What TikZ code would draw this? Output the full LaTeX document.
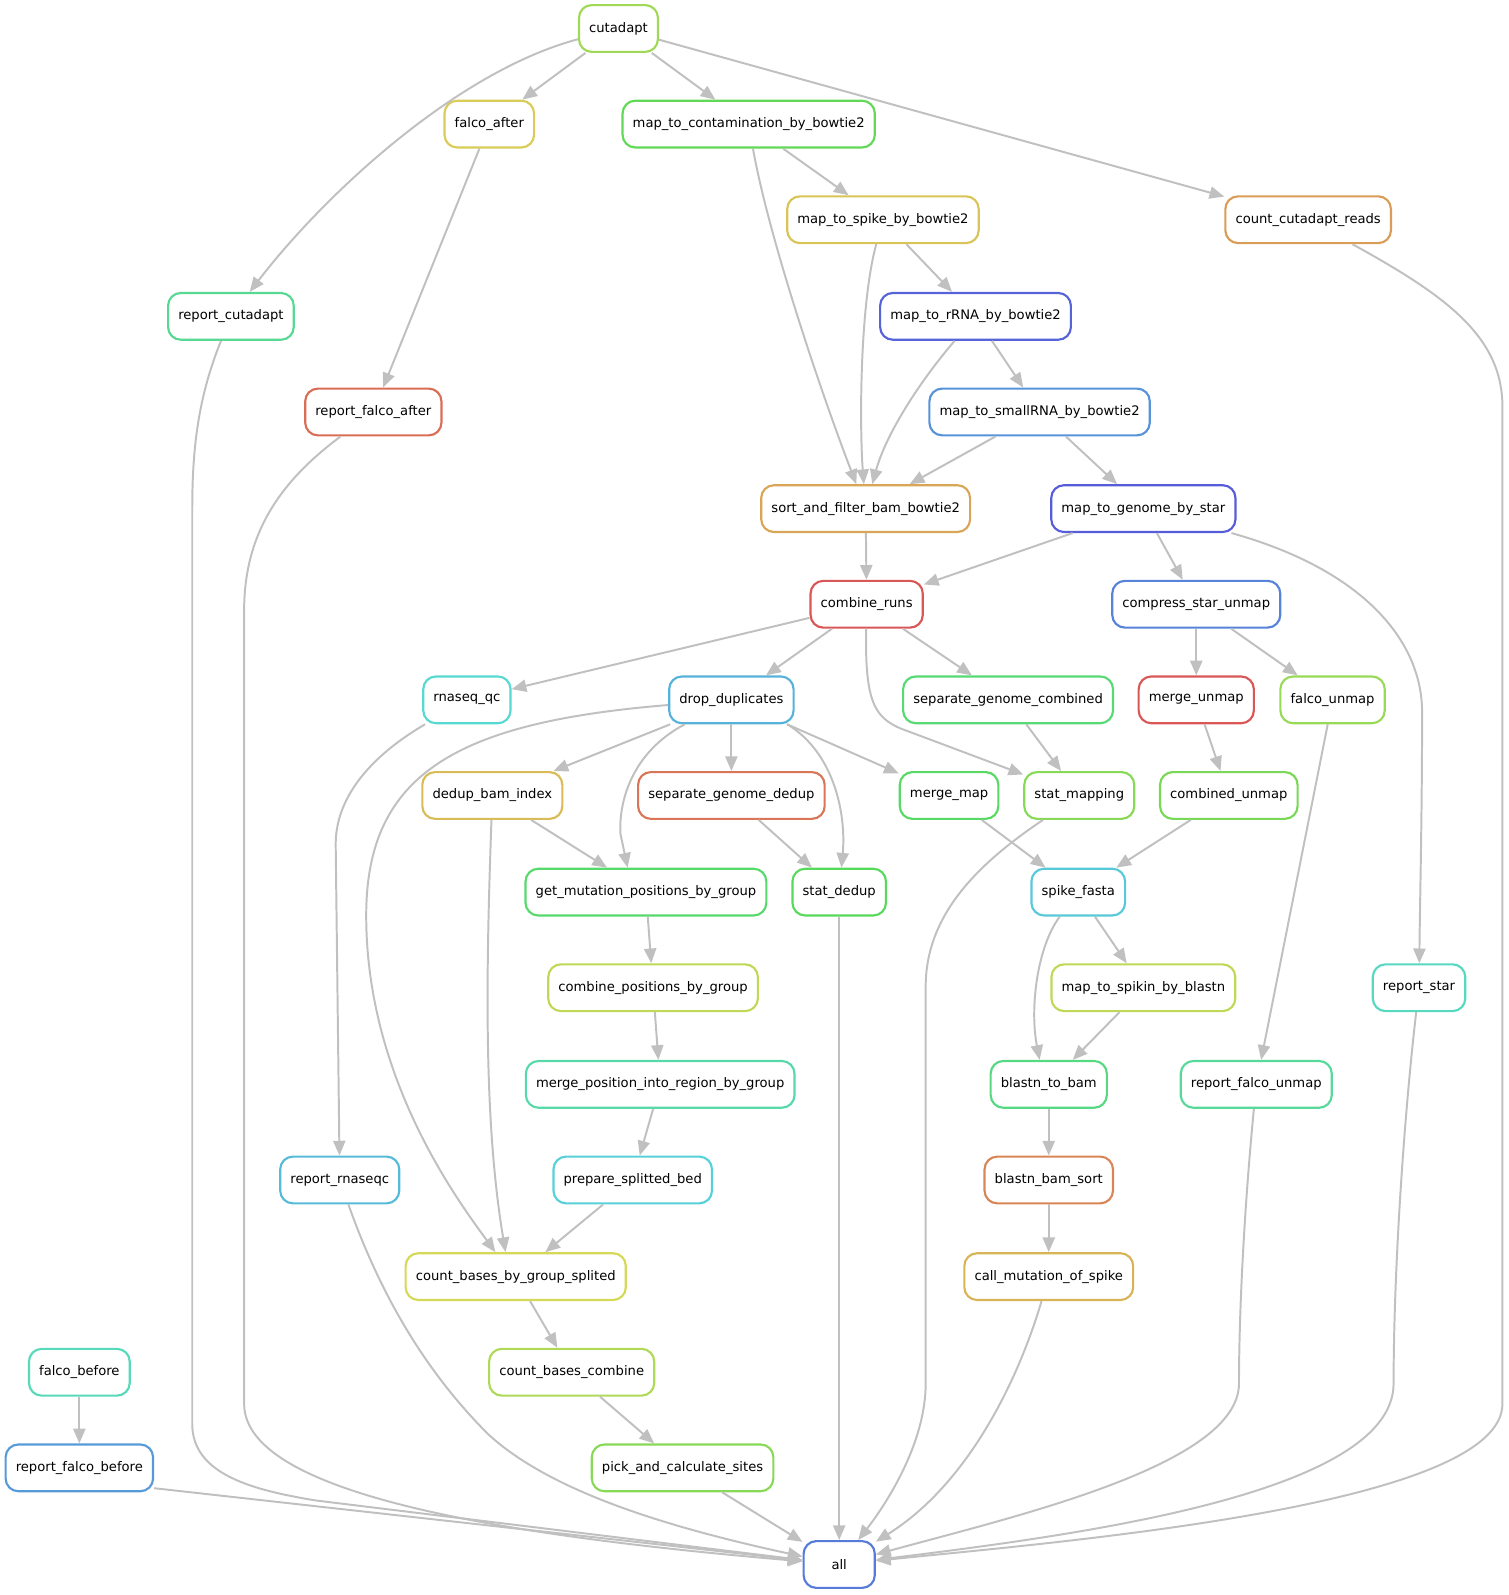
\PassOptionsToPackage{rgb}{xcolor}
\documentclass[tikz,border=0pt]{standalone}
\usepackage{fontspec}
\newfontfamily\dagfont{DejaVu Sans}
\usetikzlibrary{arrows.meta}
\usepackage{xcolor}

\definecolor{edgegray}{RGB}{192,192,192}
\definecolor{cCutadapt}{hsb}{0.24,0.6,0.85}
\definecolor{cFalcoAfter}{hsb}{0.15,0.6,0.85}
\definecolor{cMapContam}{hsb}{0.32,0.6,0.85}
\definecolor{cMapSpike}{hsb}{0.14,0.6,0.85}
\definecolor{cCountReads}{hsb}{0.09,0.6,0.85}
\definecolor{cReportCutadapt}{hsb}{0.41,0.6,0.85}
\definecolor{cMapRRNA}{hsb}{0.65,0.6,0.85}
\definecolor{cReportFalcoAfter}{hsb}{0.03,0.6,0.85}
\definecolor{cMapSmallRNA}{hsb}{0.59,0.6,0.85}
\definecolor{cSortFilter}{hsb}{0.10,0.6,0.85}
\definecolor{cMapGenome}{hsb}{0.66,0.6,0.85}
\definecolor{cCombineRuns}{hsb}{0.00,0.6,0.85}
\definecolor{cCompressUnmap}{hsb}{0.61,0.6,0.85}
\definecolor{cRnaseqQC}{hsb}{0.49,0.6,0.85}
\definecolor{cDropDup}{hsb}{0.55,0.6,0.85}
\definecolor{cSepGenomeComb}{hsb}{0.37,0.6,0.85}
\definecolor{cMergeUnmap}{hsb}{0.00,0.6,0.85}
\definecolor{cFalcoUnmap}{hsb}{0.25,0.6,0.85}
\definecolor{cDedupIndex}{hsb}{0.13,0.6,0.85}
\definecolor{cSepGenomeDedup}{hsb}{0.04,0.6,0.85}
\definecolor{cMergeMap}{hsb}{0.35,0.6,0.85}
\definecolor{cStatMapping}{hsb}{0.27,0.6,0.85}
\definecolor{cCombinedUnmap}{hsb}{0.29,0.6,0.85}
\definecolor{cGetMutPos}{hsb}{0.36,0.6,0.85}
\definecolor{cStatDedup}{hsb}{0.34,0.6,0.85}
\definecolor{cSpikeFasta}{hsb}{0.52,0.6,0.85}
\definecolor{cCombinePos}{hsb}{0.20,0.6,0.85}
\definecolor{cMapSpikin}{hsb}{0.20,0.6,0.85}
\definecolor{cReportStar}{hsb}{0.47,0.6,0.85}
\definecolor{cMergePos}{hsb}{0.44,0.6,0.85}
\definecolor{cBlastnBam}{hsb}{0.39,0.6,0.85}
\definecolor{cReportFalcoUnmap}{hsb}{0.42,0.6,0.85}
\definecolor{cReportRnaseqc}{hsb}{0.54,0.6,0.85}
\definecolor{cPrepBed}{hsb}{0.51,0.6,0.85}
\definecolor{cBlastnSort}{hsb}{0.06,0.6,0.85}
\definecolor{cCountBases}{hsb}{0.17,0.6,0.85}
\definecolor{cCallMut}{hsb}{0.12,0.6,0.85}
\definecolor{cFalcoBefore}{hsb}{0.46,0.6,0.85}
\definecolor{cCountCombine}{hsb}{0.22,0.6,0.85}
\definecolor{cReportFalcoBefore}{hsb}{0.58,0.6,0.85}
\definecolor{cPickSites}{hsb}{0.27,0.6,0.85}
\definecolor{cAll}{hsb}{0.62,0.6,0.85}

\begin{document}
\begin{tikzpicture}[x=0.02cm, y=-0.02cm,
    job/.style = {draw=#1, fill=white, line width=1.2pt, rounded corners=0.25cm,
                  minimum height=0.92cm, minimum width=1.4cm, inner xsep=0.2cm,
                  font=\dagfont\fontsize{7.35}{9}\selectfont},
    dep/.style = {draw=edgegray, line width=1.1pt, -{Triangle[length=0.29cm,width=0.24cm]}}]
    \useasboundingbox (0,0) rectangle (1483,1568);

    % rules, row by row
    \node[job=cCutadapt] (cutadapt) at (608,28) {cutadapt};

    \node[job=cFalcoAfter] (falcoAfter) at (481,122) {falco\_after};
    \node[job=cMapContam] (mapContam) at (736,122) {map\_to\_contamination\_by\_bowtie2};

    \node[job=cMapSpike] (mapSpike) at (868,216) {map\_to\_spike\_by\_bowtie2};
    \node[job=cCountReads] (countReads) at (1286,216) {count\_cutadapt\_reads};

    \node[job=cReportCutadapt] (reportCutadapt) at (227,311) {report\_cutadapt};
    \node[job=cMapRRNA] (mapRRNA) at (959,311) {map\_to\_rRNA\_by\_bowtie2};

    \node[job=cReportFalcoAfter] (reportFalcoAfter) at (367,405) {report\_falco\_after};
    \node[job=cMapSmallRNA] (mapSmallRNA) at (1022,405) {map\_to\_smallRNA\_by\_bowtie2};

    \node[job=cSortFilter] (sortFilter) at (851,500) {sort\_and\_filter\_bam\_bowtie2};
    \node[job=cMapGenome] (mapGenome) at (1124,500) {map\_to\_genome\_by\_star};

    \node[job=cCombineRuns] (combineRuns) at (852,594) {combine\_runs};
    \node[job=cCompressUnmap] (compressUnmap) at (1176,594) {compress\_star\_unmap};

    \node[job=cRnaseqQC] (rnaseqQC) at (459,688) {rnaseq\_qc};
    \node[job=cDropDup] (dropDup) at (719,688) {drop\_duplicates};
    \node[job=cSepGenomeComb] (sepGenomeComb) at (991,688) {separate\_genome\_combined};
    \node[job=cMergeUnmap] (mergeUnmap) at (1176,688) {merge\_unmap};
    \node[job=cFalcoUnmap] (falcoUnmap) at (1310,688) {falco\_unmap};

    \node[job=cDedupIndex] (dedupIndex) at (484,782) {dedup\_bam\_index};
    \node[job=cSepGenomeDedup] (sepGenomeDedup) at (719,782) {separate\_genome\_dedup};
    \node[job=cMergeMap] (mergeMap) at (933,782) {merge\_map};
    \node[job=cStatMapping] (statMapping) at (1061,782) {stat\_mapping};
    \node[job=cCombinedUnmap] (combinedUnmap) at (1208,782) {combined\_unmap};

    \node[job=cGetMutPos] (getMutPos) at (635,877) {get\_mutation\_positions\_by\_group};
    \node[job=cStatDedup] (statDedup) at (825,877) {stat\_dedup};
    \node[job=cSpikeFasta] (spikeFasta) at (1060,877) {spike\_fasta};

    \node[job=cCombinePos] (combinePos) at (642,971) {combine\_positions\_by\_group};
    \node[job=cMapSpikin] (mapSpikin) at (1124,971) {map\_to\_spikin\_by\_blastn};
    \node[job=cReportStar] (reportStar) at (1395,971) {report\_star};

    \node[job=cMergePos] (mergePos) at (649,1066) {merge\_position\_into\_region\_by\_group};
    \node[job=cBlastnBam] (blastnBam) at (1031,1066) {blastn\_to\_bam};
    \node[job=cReportFalcoUnmap] (reportFalcoUnmap) at (1235,1066) {report\_falco\_unmap};

    \node[job=cReportRnaseqc] (reportRnaseqc) at (334,1160) {report\_rnaseqc};
    \node[job=cPrepBed] (prepBed) at (622,1160) {prepare\_splitted\_bed};
    \node[job=cBlastnSort] (blastnSort) at (1031,1160) {blastn\_bam\_sort};

    \node[job=cCountBases] (countBases) at (507,1255) {count\_bases\_by\_group\_splited};
    \node[job=cCallMut] (callMut) at (1031,1255) {call\_mutation\_of\_spike};

    \node[job=cFalcoBefore] (falcoBefore) at (78,1349) {falco\_before};
    \node[job=cCountCombine] (countCombine) at (562,1349) {count\_bases\_combine};

    \node[job=cReportFalcoBefore] (reportFalcoBefore) at (78,1443) {report\_falco\_before};
    \node[job=cPickSites] (pickSites) at (671,1443) {pick\_and\_calculate\_sites};

    \node[job=cAll] (all) at (825,1538) {all};

    % dependencies
    \draw[dep] (cutadapt) .. controls (450,70) and (320,190) .. (reportCutadapt);
    \draw[dep] (cutadapt) -- (falcoAfter);
    \draw[dep] (cutadapt) -- (mapContam);
    \draw[dep] (cutadapt) -- (countReads);
    \draw[dep] (falcoAfter) -- (reportFalcoAfter);
    \draw[dep] (mapContam) -- (mapSpike);
    \draw[dep] (mapContam) .. controls (755,230) and (805,380) .. (sortFilter);
    \draw[dep] (mapSpike) -- (mapRRNA);
    \draw[dep] (mapSpike) .. controls (845,300) and (845,420) .. (sortFilter);
    \draw[dep] (mapRRNA) -- (mapSmallRNA);
    \draw[dep] (mapRRNA) .. controls (900,380) and (870,430) .. (sortFilter);
    \draw[dep] (mapSmallRNA) -- (sortFilter);
    \draw[dep] (mapSmallRNA) -- (mapGenome);
    \draw[dep] (sortFilter) -- (combineRuns);
    \draw[dep] (mapGenome) -- (combineRuns);
    \draw[dep] (mapGenome) -- (compressUnmap);
    \draw[dep] (mapGenome) .. controls (1340,560) and (1398,630) .. (1398,700)
        .. controls (1398,800) and (1396,880) .. (reportStar);
    \draw[dep] (countReads) .. controls (1420,290) and (1477,330) .. (1477,400)
        -- (1477,1380) .. controls (1477,1480) and (1050,1515) .. (all);
    \draw[dep] (reportCutadapt) .. controls (195,390) and (189,440) .. (189,500)
        -- (189,1400) .. controls (189,1450) and (250,1465) .. (310,1475) -- (all);
    \draw[dep] (reportFalcoAfter) .. controls (280,470) and (240,520) .. (240,600)
        -- (240,1380) .. controls (240,1470) and (500,1510) .. (all);
    \draw[dep] (combineRuns) -- (rnaseqQC);
    \draw[dep] (combineRuns) -- (dropDup);
    \draw[dep] (combineRuns) -- (sepGenomeComb);
    \draw[dep] (combineRuns) .. controls (850,690) and (860,705) .. (885,716) -- (statMapping);
    \draw[dep] (compressUnmap) -- (mergeUnmap);
    \draw[dep] (compressUnmap) -- (falcoUnmap);
    \draw[dep] (rnaseqQC) .. controls (370,740) and (330,780) .. (330,830) -- (reportRnaseqc);
    \draw[dep] (dropDup) .. controls (450,710) and (360,760) .. (360,900)
        .. controls (360,1060) and (450,1180) .. ([xshift=-0.4cm]countBases.north);
    \draw[dep] (dropDup) -- (dedupIndex);
    \draw[dep] (dropDup) .. controls (620,740) and (608,790) .. (610,820)
        -- ([xshift=-0.36cm]getMutPos.north);
    \draw[dep] (dropDup) -- (sepGenomeDedup);
    \draw[dep] ([xshift=1.1cm]dropDup.south) .. controls (820,740) and (832,800) .. (statDedup);
    \draw[dep] (dropDup) -- (mergeMap);
    \draw[dep] (sepGenomeComb) -- (statMapping);
    \draw[dep] (mergeUnmap) -- (combinedUnmap);
    \draw[dep] (falcoUnmap) -- (reportFalcoUnmap);
    \draw[dep] (dedupIndex) -- (getMutPos);
    \draw[dep] (dedupIndex) .. controls (478,950) and (475,1100) .. ([xshift=-0.2cm]countBases.north);
    \draw[dep] (sepGenomeDedup) -- (statDedup);
    \draw[dep] (mergeMap) -- (spikeFasta);
    \draw[dep] (statMapping) .. controls (960,850) and (910,900) .. (910,970)
        -- (910,1360) .. controls (910,1420) and (870,1480) .. (all);
    \draw[dep] (combinedUnmap) -- (spikeFasta);
    \draw[dep] (getMutPos) -- (combinePos);
    \draw[dep] (statDedup) -- (all);
    \draw[dep] (spikeFasta) -- (mapSpikin);
    \draw[dep] (spikeFasta) .. controls (1020,930) and (1012,990) .. ([xshift=-0.18cm]blastnBam.north);
    \draw[dep] (combinePos) -- (mergePos);
    \draw[dep] (mapSpikin) -- (blastnBam);
    \draw[dep] (reportStar) .. controls (1380,1100) and (1370,1250) .. (1370,1360)
        .. controls (1370,1470) and (1050,1510) .. (all);
    \draw[dep] (mergePos) -- (prepBed);
    \draw[dep] (blastnBam) -- (blastnSort);
    \draw[dep] (reportFalcoUnmap) .. controls (1222,1200) and (1218,1300) .. (1218,1360)
        .. controls (1218,1440) and (1000,1490) .. (all);
    \draw[dep] (reportRnaseqc) .. controls (380,1290) and (430,1360) .. (480,1410)
        .. controls (540,1465) and (650,1500) .. (all);
    \draw[dep] (prepBed) -- (countBases);
    \draw[dep] (blastnSort) -- (callMut);
    \draw[dep] (countBases) -- (countCombine);
    \draw[dep] (callMut) .. controls (1000,1360) and (950,1460) .. (all);
    \draw[dep] (falcoBefore) -- (reportFalcoBefore);
    \draw[dep] (countCombine) -- (pickSites);
    \draw[dep] ([yshift=-0.4cm]reportFalcoBefore.east) -- (all);
    \draw[dep] (pickSites) -- (all);
\end{tikzpicture}
\end{document}
